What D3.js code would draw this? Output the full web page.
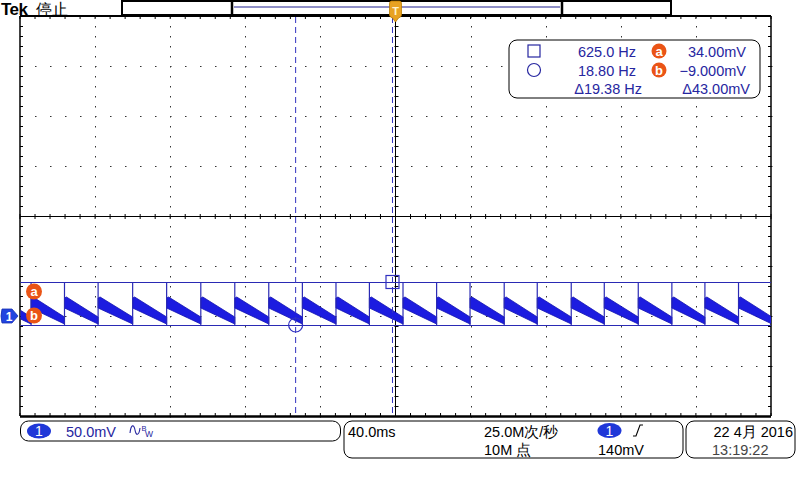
<!DOCTYPE html>
<html><head><meta charset="utf-8">
<script src="https://cdn.jsdelivr.net/npm/d3@7"></script>
<style>body{margin:0;background:#fff}svg{display:block}text{font-family:"Liberation Sans",Arial,sans-serif}</style>
</head><body><svg id="c" width="800" height="480"></svg>
<script>
// ---- data ----
const edgeTimes = [-212, -194.1, -176.3, -158.4, -140.0, -121.9, -103.7, -85.6, -67.5, -49.6, -31.7, -13.9, 4.0, 21.9, 39.7, 57.9, 75.5, 93.6, 111.2, 129.3, 147.2, 164.8, 182.7, 200.5]; // ms
const envelopeLevels = [34, -9];           // mV (high, low)
const rampStart = [18, 8];                 // mV (band top, band bottom) at period start
const rampEnd = [-1, -8];                  // mV (band top, band bottom) at period end
const cursorTimes = [-1.6, -53.19];        // ms (square a, circle b)
const cursorLevels = [34, -9];             // mV
const freqReadouts = ["625.0 Hz", "18.80 Hz", "Δ19.38 Hz"];
const voltReadouts = ["34.00mV", "−9.000mV", "Δ43.00mV"];
const timeDomain = [-200, 200];            // ms, 40 ms/div
const voltDomain = [-100, 300];            // mV, 50 mV/div (ground offset 2 div)
const statusLabels = {brand: "Tek", state: "停止", scale: "50.0mV", timebase: "40.0ms",
  rate: "25.0M次/秒", points: "10M 点", trigLevel: "140mV", date: "22 4月 2016", time: "13:19:22"};

// ---- scales ----
const svg = d3.select("#c");
const x = d3.scaleLinear().domain(timeDomain).range([20, 771]);
const y = d3.scaleLinear().domain(voltDomain).range([416, 16]);
const BLUE = "#1c1ce0", NAVY = "#2a2ab4", ORANGE = "#ea5416", TXT = "#2626a0";

// ---- grid ----
const g = svg.append("g");
const xDiv = d3.range(timeDomain[0], timeDomain[1] + 1, 40);
const yDiv = d3.range(voltDomain[0], voltDomain[1] + 1, 50);
const xMinor = d3.range(timeDomain[0], timeDomain[1] + 0.1, 8);
const yMinor = d3.range(voltDomain[0], voltDomain[1] + 0.1, 10);
xDiv.slice(1, -1).forEach(t => {
  if (t === 0) return;
  yMinor.forEach(v => g.append("rect").attr("x", Math.round(x(t))).attr("y", Math.round(y(v))).attr("width", 1).attr("height", 1.5).attr("fill", "#333"));
});
yDiv.slice(1, -1).forEach(v => {
  if (v === 100) return;
  xMinor.forEach(t => g.append("rect").attr("x", Math.round(x(t))).attr("y", Math.round(y(v))).attr("width", 1.5).attr("height", 1).attr("fill", "#333"));
});
g.append("line").attr("x1", x(0)).attr("x2", x(0)).attr("y1", y(voltDomain[0])).attr("y2", y(voltDomain[1])).attr("stroke", "#000").attr("stroke-width", 1);
g.append("line").attr("x1", x(timeDomain[0])).attr("x2", x(timeDomain[1])).attr("y1", y(100) + 0.5).attr("y2", y(100) + 0.5).attr("stroke", "#000").attr("stroke-width", 1);
xMinor.forEach(t => g.append("line").attr("x1", x(t)).attr("x2", x(t)).attr("y1", y(100) - 2).attr("y2", y(100) + 3).attr("stroke", "#000"));
yMinor.forEach(v => g.append("line").attr("x1", x(0) - 1).attr("x2", x(0) + 3).attr("y1", y(v) + 0.5).attr("y2", y(v) + 0.5).attr("stroke", "#000"));
xMinor.forEach(t => {
  g.append("line").attr("x1", x(t)).attr("x2", x(t)).attr("y1", y(voltDomain[1])).attr("y2", y(voltDomain[1]) + 3).attr("stroke", "#000");
  g.append("line").attr("x1", x(t)).attr("x2", x(t)).attr("y1", y(voltDomain[0]) - 3).attr("y2", y(voltDomain[0])).attr("stroke", "#000");
});
yMinor.forEach(v => {
  g.append("line").attr("x1", x(timeDomain[0])).attr("x2", x(timeDomain[0]) + 3).attr("y1", y(v) + 0.5).attr("y2", y(v) + 0.5).attr("stroke", "#000");
  g.append("line").attr("x1", x(timeDomain[1]) - 3).attr("x2", x(timeDomain[1])).attr("y1", y(v) + 0.5).attr("y2", y(v) + 0.5).attr("stroke", "#000");
});
g.append("line").attr("x1", x(timeDomain[0])).attr("x2", x(timeDomain[0])).attr("y1", y(voltDomain[1])).attr("y2", y(voltDomain[0])).attr("stroke", "#000").attr("stroke-width", 1.5);
g.append("line").attr("x1", x(timeDomain[1])).attr("x2", x(timeDomain[1])).attr("y1", y(voltDomain[1])).attr("y2", y(voltDomain[0])).attr("stroke", "#000").attr("stroke-width", 1.5);
g.append("line").attr("x1", x(timeDomain[0])).attr("x2", x(timeDomain[1])).attr("y1", y(voltDomain[1])).attr("y2", y(voltDomain[1])).attr("stroke", "#000").attr("stroke-width", 2);
g.append("line").attr("x1", x(timeDomain[0])).attr("x2", x(timeDomain[1])).attr("y1", y(voltDomain[0]) + 0.5).attr("y2", y(voltDomain[0]) + 0.5).attr("stroke", "#000").attr("stroke-width", 2.5);

// ---- waveform ----
svg.append("clipPath").attr("id", "plot").append("rect").attr("x", x(timeDomain[0]) + 0.5).attr("y", y(voltDomain[1])).attr("width", x(timeDomain[1]) - x(timeDomain[0]) - 0.5).attr("height", y(voltDomain[0]) - y(voltDomain[1]));
const w = svg.append("g").attr("clip-path", "url(#plot)");
const periods = d3.pairs(edgeTimes);
w.selectAll("path.band").data(periods).join("path").attr("class", "band")
  .attr("d", ([t0, t1]) => d3.line()([[x(t0), y(rampStart[0])], [x(t0) + 2, y(rampStart[0]) - 1], [x(t1), y(rampEnd[0])], [x(t1), y(rampEnd[1])], [x(t0), y(rampStart[1])]]) + "Z")
  .attr("fill", BLUE).attr("stroke", "#1010b0").attr("stroke-width", 0.8);
envelopeLevels.forEach(v => w.append("line").attr("x1", x(timeDomain[0])).attr("x2", x(timeDomain[1])).attr("y1", Math.round(y(v)) + 0.5).attr("y2", Math.round(y(v)) + 0.5).attr("stroke", NAVY).attr("stroke-width", 1.2));
w.selectAll("line.edge").data(edgeTimes).join("line").attr("class", "edge")
  .attr("x1", d => x(d)).attr("x2", d => x(d)).attr("y1", y(envelopeLevels[0])).attr("y2", y(envelopeLevels[1]))
  .attr("stroke", NAVY).attr("stroke-width", 1.2);

// ---- cursors ----
cursorTimes.forEach(t => svg.append("line").attr("x1", x(t)).attr("x2", x(t)).attr("y1", y(voltDomain[1]) + 1).attr("y2", y(voltDomain[0]))
  .attr("stroke", "#3232c0").attr("stroke-width", 1).attr("stroke-dasharray", "6,4"));
svg.append("rect").attr("x", x(cursorTimes[0]) - 6.5).attr("y", y(cursorLevels[0]) - 6.5).attr("width", 13).attr("height", 13).attr("fill", "none").attr("stroke", "#3030c0").attr("stroke-width", 1.2);
svg.append("circle").attr("cx", x(cursorTimes[1])).attr("cy", y(cursorLevels[1])).attr("r", 7).attr("fill", "none").attr("stroke", "#3030c0").attr("stroke-width", 1.2);

// ---- left markers ----
const markers = [["a", 291.5], ["b", 315.5]];
markers.forEach(([l, cy]) => {
  svg.append("circle").attr("cx", 34).attr("cy", cy).attr("r", 8).attr("fill", ORANGE);
  svg.append("text").attr("x", 34).attr("y", cy + 4.5).attr("text-anchor", "middle").attr("fill", "#fff").attr("font-weight", "bold").attr("font-size", 13).text(l);
});
svg.append("path").attr("d", `M2,${y(0) - 7} L12,${y(0) - 7} L18,${y(0)} L12,${y(0) + 7} L2,${y(0) + 7} Q0,${y(0)} 2,${y(0) - 7}Z`).attr("fill", "#2244e0").attr("stroke", "#1830b0").attr("stroke-width", 0.8);
svg.append("text").attr("x", 9).attr("y", y(0) + 4.5).attr("text-anchor", "middle").attr("fill", "#fff").attr("font-size", 12).attr("font-weight", "bold").text("1");

// ---- top bar ----
svg.append("text").attr("x", 1).attr("y", 15).attr("font-family", "'Liberation Sans',Arial,sans-serif").attr("font-weight", "bold").attr("font-size", 17).attr("letter-spacing", -0.5).attr("fill", "#000").text(statusLabels.brand);
svg.append("text").attr("x", 36).attr("y", 15).attr("font-family", "'Noto Sans CJK SC'").attr("font-weight", 300).attr("font-size", 15.5).attr("fill", "#000").text(statusLabels.state);
svg.append("rect").attr("x", 122).attr("y", 1).attr("width", 549).attr("height", 14).attr("fill", "#fff").attr("stroke", "#000").attr("stroke-width", 2);
svg.append("line").attr("x1", 234).attr("x2", 560).attr("y1", 7).attr("y2", 7).attr("stroke", "#202090").attr("stroke-width", 1.2);
svg.append("line").attr("x1", 232).attr("x2", 232).attr("y1", 1).attr("y2", 15).attr("stroke", "#000").attr("stroke-width", 2.5);
svg.append("line").attr("x1", 562).attr("x2", 562).attr("y1", 1).attr("y2", 15).attr("stroke", "#000").attr("stroke-width", 2.5);
const tx = x(0);
svg.append("path").attr("d", `M${tx - 4},1 L${tx + 4},1 Q${tx + 6},1 ${tx + 6},4 L${tx + 6},15 Q${tx + 6},17 ${tx + 3},18 L${tx},22 L${tx - 3},18 Q${tx - 6},17 ${tx - 6},15 L${tx - 6},4 Q${tx - 6},1 ${tx - 4},1Z`)
  .attr("fill", "#e8a222").attr("stroke", "#b87a00").attr("stroke-width", 0.8);
svg.append("text").attr("x", tx).attr("y", 15).attr("text-anchor", "middle").attr("fill", "#fff3d0").attr("font-size", 11).attr("font-weight", "bold").text("T");

// ---- measurement box ----
svg.append("rect").attr("x", 509).attr("y", 40).attr("width", 251).attr("height", 58).attr("rx", 8).attr("fill", "#fff").attr("stroke", "#000").attr("stroke-width", 1);
svg.append("rect").attr("x", 528).attr("y", 45).attr("width", 12).attr("height", 12).attr("fill", "none").attr("stroke", TXT).attr("stroke-width", 1.2);
svg.append("circle").attr("cx", 534).attr("cy", 70).attr("r", 6.5).attr("fill", "none").attr("stroke", TXT).attr("stroke-width", 1.2);
const rowsY = [56.5, 75.5, 94];
const freqEnds = [636, 636, 642];
const voltEnds = [746, 746, 750];
freqReadouts.forEach((s, i) => svg.append("text").attr("x", freqEnds[i]).attr("y", rowsY[i]).attr("text-anchor", "end").attr("fill", TXT).attr("font-size", 14.5).text(s));
voltReadouts.forEach((s, i) => svg.append("text").attr("x", voltEnds[i]).attr("y", rowsY[i]).attr("text-anchor", "end").attr("fill", TXT).attr("font-size", 14.5).text(s));
["a", "b"].forEach((l, i) => {
  svg.append("circle").attr("cx", 659).attr("cy", rowsY[i] - 5.5).attr("r", 7.5).attr("fill", ORANGE);
  svg.append("text").attr("x", 659).attr("y", rowsY[i] - 1).attr("text-anchor", "middle").attr("fill", "#fff").attr("font-weight", "bold").attr("font-size", 13).text(l);
});

// ---- bottom status ----
const box = (x0, y0, wd, ht) => svg.append("rect").attr("x", x0).attr("y", y0).attr("width", wd).attr("height", ht).attr("rx", 8).attr("fill", "#fff").attr("stroke", "#000").attr("stroke-width", 1);
box(20.5, 421, 320, 20);
box(344, 421, 339, 37);
box(686, 421, 109, 37);
const badge = (cx, cy) => {
  svg.append("ellipse").attr("cx", cx).attr("cy", cy).attr("rx", 12).attr("ry", 7.5).attr("fill", "#2038d8");
  svg.append("text").attr("x", cx).attr("y", cy + 5).attr("text-anchor", "middle").attr("fill", "#fff").attr("font-size", 14).text("1");
};
badge(39, 431);
svg.append("text").attr("x", 66).attr("y", 436.5).attr("fill", TXT).attr("font-size", 14.5).text(statusLabels.scale);
svg.append("path").attr("d", "M130,433 C131,424 134,424 135,430 C136,436 139,436 140,428").attr("fill", "none").attr("stroke", TXT).attr("stroke-width", 1.1);
svg.append("text").attr("x", 141.5).attr("y", 431).attr("fill", TXT).attr("font-size", 7.5).text("B");
svg.append("text").attr("x", 145).attr("y", 437).attr("fill", TXT).attr("font-size", 8.5).text("W");

svg.append("text").attr("x", 348).attr("y", 436.5).attr("fill", "#000").attr("font-size", 14.5).text(statusLabels.timebase);
svg.append("text").attr("x", 484).attr("y", 436.5).attr("fill", "#000").attr("font-size", 14.5).attr("font-family", "'Liberation Sans','Noto Sans CJK SC'").text(statusLabels.rate);
svg.append("text").attr("x", 484).attr("y", 455).attr("fill", "#000").attr("font-size", 14.5).attr("font-family", "'Liberation Sans','Noto Sans CJK SC'").text(statusLabels.points);
badge(609.5, 430.5);
svg.append("path").attr("d", "M633,436 L636,436 L640,425 L643,425").attr("fill", "none").attr("stroke", "#000").attr("stroke-width", 1.1);
svg.append("text").attr("x", 644).attr("y", 455).attr("text-anchor", "end").attr("fill", "#000").attr("font-size", 14.5).text(statusLabels.trigLevel);
svg.append("text").attr("x", 793).attr("y", 436.5).attr("text-anchor", "end").attr("fill", "#000").attr("font-size", 14.5).attr("font-family", "'Liberation Sans','Noto Sans CJK SC'").text(statusLabels.date);
svg.append("text").attr("x", 712).attr("y", 455).attr("fill", "#444").attr("font-size", 14.5).text(statusLabels.time);
</script></body></html>
